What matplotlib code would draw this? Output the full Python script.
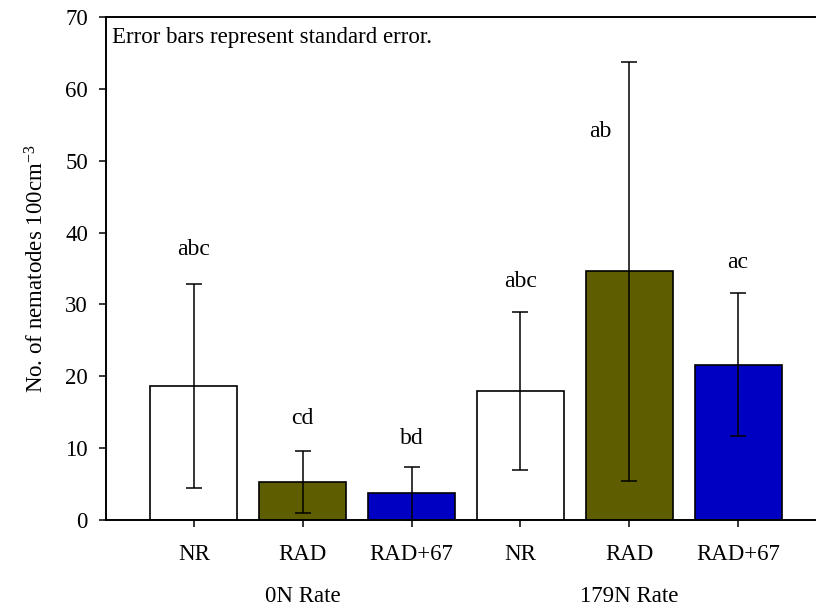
import matplotlib
matplotlib.use('Agg')
import matplotlib.pyplot as plt
import matplotlib.transforms as mtransforms
import numpy as np

plt.rcParams['font.family'] = ['Liberation Serif', 'DejaVu Serif']
plt.rcParams['mathtext.fontset'] = 'custom'
plt.rcParams['mathtext.rm'] = 'Liberation Serif'
plt.rcParams['mathtext.it'] = 'Liberation Serif:italic'

# treatments, two N rates
treatments = ['NR', 'RAD', 'RAD+67', 'NR', 'RAD', 'RAD+67']
groups = ['0N Rate', '179N Rate']
means = [18.6, 5.3, 3.7, 17.95, 34.6, 21.6]
se = [14.2, 4.35, 3.7, 11.0, 29.2, 9.95]
letters = ['abc', 'cd', 'bd', 'abc', 'ab', 'ac']
letter_y = [37.7, 14.1, 11.4, 33.2, 54.0, 35.8]
letter_dx = [0, 0, 0, 0, -0.27, 0]  # 'ab' sits left of its long error bar
colors = ['white', '#5e5e00', '#0000c2', 'white', '#5e5e00', '#0000c2']

FS = 16.5


def nematodes():
    fig = plt.figure(figsize=(8.16, 6.11), dpi=100)
    ax = fig.add_axes([0.1299, 0.1489, 0.8701, 0.8233])

    x = np.arange(len(means))
    ax.bar(x, means, width=0.8, color=colors, edgecolor='black', linewidth=1.2, zorder=2)

    # lower error can't go below zero
    lower = np.minimum(se, means)
    ax.errorbar(x, means, yerr=[lower, se], fmt='none', ecolor='black',
                elinewidth=1.1, capsize=5.6, capthick=1.1, zorder=3)

    for xi, lab, ly, dx in zip(x, letters, letter_y, letter_dx):
        ax.text(xi + dx, ly, lab, ha='center', va='center', fontsize=17)

    ax.text(0.008, 0.960, 'Error bars represent standard error.', transform=ax.transAxes,
            ha='left', va='center', fontsize=16.5)

    ax.set_xlim(-0.807, 5.716)
    ax.set_ylim(0, 70)
    ax.set_yticks(range(0, 71, 10))
    ax.set_xticks(x)
    ax.set_xticklabels(treatments)

    ax.set_ylabel('No. of nematodes 100cm$^{-3}$', fontsize=FS, labelpad=12)
    ax.tick_params(axis='both', direction='out', length=5, width=1.1, labelsize=FS)
    ax.tick_params(axis='x', pad=12)
    ax.tick_params(axis='y', pad=8)

    ax.spines['right'].set_visible(False)
    for s in ['left', 'bottom', 'top']:
        ax.spines[s].set_linewidth(1.4)

    # group labels under the tick labels
    trans = mtransforms.blended_transform_factory(ax.transData, ax.transAxes)
    for gx, g in zip([1, 4], groups):
        ax.text(gx, -0.153, g, transform=trans, ha='center', va='center', fontsize=FS)

    fig.savefig('out.png', dpi=100)


if __name__ == '__main__':
    nematodes()
